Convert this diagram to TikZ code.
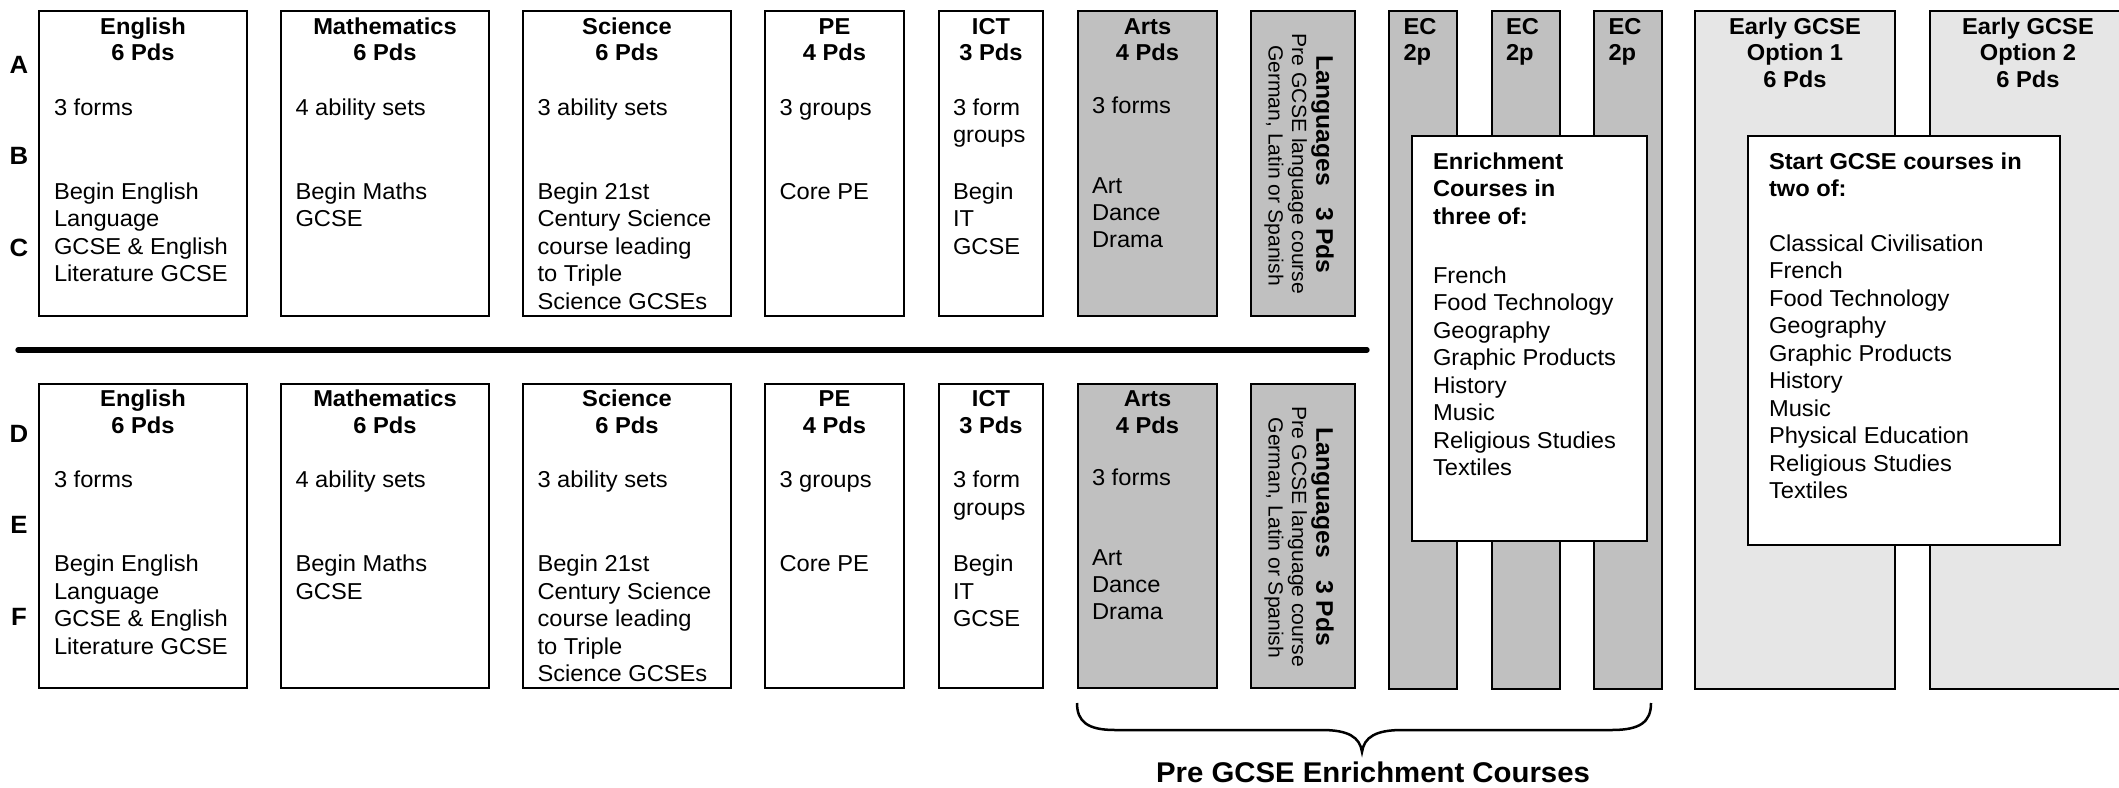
\documentclass[tikz,border=0pt]{standalone}
\usepackage{fontspec}
\setmainfont{Liberation Sans}[FakeStretch=1.03]
\definecolor{greyA}{HTML}{C0C0C0}
\definecolor{greyB}{HTML}{E6E6E6}
\tikzset{
 box/.style={draw=black, line width=2pt, inner sep=0pt, outer sep=0pt, anchor=north west},
 ttl/.style={inner sep=0pt, outer sep=0pt, anchor=north, align=center, font=\fontsize{23}{26.7}\selectfont\bfseries},
 ectl/.style={ttl, anchor=north west, align=left},
 txt/.style={inner sep=0pt, outer sep=0pt, anchor=north west, align=left, font=\fontsize{23}{27.5}\selectfont},
 btxt/.style={txt, font=\fontsize{23}{27.5}\selectfont\bfseries},
 lbl/.style={inner sep=0pt, outer sep=0pt, anchor=base, font=\fontsize{25}{28}\selectfont\bfseries},
 rotb/.style={inner sep=0pt, outer sep=0pt, rotate=-90, font=\fontsize{24}{26}\selectfont\bfseries},
 rotp/.style={inner sep=0pt, outer sep=0pt, rotate=-90, font=\fontsize{20.5}{24}\selectfont},
 captxt/.style={inner sep=0pt, outer sep=0pt, anchor=base, font=\fontsize{28.5}{30}\selectfont\bfseries},
}
\begin{document}
\begin{tikzpicture}[x=1pt,y=1pt]
\clip (0,0) rectangle (2119,-787);
\fill[white] (0,0) rectangle (2119,-787);

% tall enrichment columns
\node[box, fill=greyA, minimum width=68.5, minimum height=678] (ecA) at (1388.5,-11) {};
\node[box, fill=greyA, minimum width=67.5, minimum height=678] (ecB) at (1492,-11) {};
\node[box, fill=greyA, minimum width=68.5, minimum height=678] (ecC) at (1593.5,-11) {};
\node[ectl] (ecAT) at (1403.5,-15.6) {\strut EC\\2p};
\node[ectl] (ecBT) at (1506,-15.6) {\strut EC\\2p};
\node[ectl] (ecCT) at (1608.5,-15.6) {\strut EC\\2p};

% early GCSE columns
\node[box, fill=greyB, minimum width=200, minimum height=678] (egA) at (1695,-11) {};
\node[box, fill=greyB, minimum width=200, minimum height=678] (egB) at (1929.5,-11) {};
\node[ttl] (egAT) at (1795,-15.6) {\strut Early GCSE\\Option 1\\6 Pds};
\node[ttl] (egBT) at (2028,-15.6) {\strut Early GCSE\\Option 2\\6 Pds};

% enrichment list
\node[box, fill=white, minimum width=235, minimum height=405] (enr) at (1412,-136) {};
\node[btxt] (enrT) at (1433,-149.75) {\strut Enrichment\\Courses in\\three of:};
\node[txt] (enrL) at (1433,-263.75) {\strut French\\Food Technology\\Geography\\Graphic Products\\History\\Music\\Religious Studies\\Textiles};

% start GCSE list
\node[box, fill=white, minimum width=312, minimum height=409] (sg) at (1748,-136) {};
\node[btxt] (sgT) at (1769,-149.75) {\strut Start GCSE courses in\\two of:};
\node[txt] (sgL) at (1769,-231.75) {\strut Classical Civilisation\\French\\Food Technology\\Geography\\Graphic Products\\History\\Music\\Physical Education\\Religious Studies\\Textiles};

% two rows of subject boxes
\foreach \r/\dy/\la/\lb/\lc/\ya/\yb/\yc in {U/0/A/B/C/73/164/256,L/372.5/D/E/F/70/161/253}{
\begin{scope}[yshift=-\dy pt]
 \node[lbl] (row\la) at (19,-\ya) {\la};
 \node[lbl] (row\lb) at (19,-\yb) {\lb};
 \node[lbl] (row\lc) at (19,-\yc) {\lc};
 % English
 \node[box, fill=white, minimum width=208, minimum height=304.5] (eng\r) at (39,-11) {};
 \node[ttl] (engT\r) at (143,-15.6) {\strut English\\6 Pds};
 \node[txt] (engP\r) at (54,-95.75) {\strut 3 forms};
 \node[txt] (engQ\r) at (54,-179.75) {\strut Begin English\\Language\\GCSE \& English\\Literature GCSE};
 % Mathematics
 \node[box, fill=white, minimum width=208, minimum height=304.5] (mat\r) at (281,-11) {};
 \node[ttl] (matT\r) at (385,-15.6) {\strut Mathematics\\6 Pds};
 \node[txt] (matP\r) at (295.5,-95.75) {\strut 4 ability sets};
 \node[txt] (matQ\r) at (295.5,-179.75) {\strut Begin Maths\\GCSE};
 % Science
 \node[box, fill=white, minimum width=208, minimum height=304.5] (sci\r) at (523,-11) {};
 \node[ttl] (sciT\r) at (627,-15.6) {\strut Science\\6 Pds};
 \node[txt] (sciP\r) at (537.5,-95.75) {\strut 3 ability sets};
 \node[txt] (sciQ\r) at (537.5,-179.75) {\strut Begin 21st\\Century Science\\course leading\\to Triple\\Science GCSEs};
 % PE
 \node[box, fill=white, minimum width=139, minimum height=304.5] (pe\r) at (765,-11) {};
 \node[ttl] (peT\r) at (834.5,-15.6) {\strut PE\\4 Pds};
 \node[txt] (peP\r) at (779.5,-95.75) {\strut 3 groups};
 \node[txt] (peQ\r) at (779.5,-179.75) {\strut Core PE};
 % ICT
 \node[box, fill=white, minimum width=104, minimum height=304.5] (ict\r) at (939,-11) {};
 \node[ttl] (ictT\r) at (991,-15.6) {\strut ICT\\3 Pds};
 \node[txt] (ictP\r) at (953,-95.75) {\strut 3 form\\groups};
 \node[txt] (ictQ\r) at (953,-179.75) {\strut Begin\\IT\\GCSE};
 % Arts
 \node[box, fill=greyA, minimum width=139, minimum height=304.5] (art\r) at (1078,-11) {};
 \node[ttl] (artT\r) at (1147.5,-15.6) {\strut Arts\\4 Pds};
 \node[txt] (artP\r) at (1092,-93.75) {\strut 3 forms};
 \node[txt, font=\fontsize{23}{27}\selectfont] (artQ\r) at (1092,-174.5) {\strut Art\\Dance\\Drama};
 % Languages
 \node[box, fill=greyA, minimum width=104, minimum height=304.5] (lan\r) at (1251,-11) {};
 \node[rotb] (lanT\r) at (1322.5,-164.5) {Languages\hspace{22pt}3 Pds};
 \node[rotp] (lanP\r) at (1297.5,-164) {Pre GCSE language course};
 \node[rotp] (lanQ\r) at (1274,-165.5) {German, Latin or Spanish};
\end{scope}
}

% separator between the two rows
\coordinate (sepL) at (18,-350);
\coordinate (sepR) at (1367,-350);
\draw[line width=5.3pt, line cap=round] (sepL) -- (sepR);

% brace and caption
\coordinate (brL) at (1077,-703);
\coordinate (brR) at (1651,-703);
\coordinate (brT) at (1362,-752);
\draw[line width=2.5pt] (brL) .. controls (1077,-722) and (1088,-730) .. (1115,-730) -- (1322,-730)
  .. controls (1348,-730) and (1360,-737) .. (brT)
  .. controls (1364,-737) and (1376,-730) .. (1402,-730) -- (1612,-730)
  .. controls (1640,-730) and (1651,-722) .. (brR);
\node[captxt] (caption) at (1373,-782.5) {Pre GCSE Enrichment Courses};
\end{tikzpicture}
\end{document}
